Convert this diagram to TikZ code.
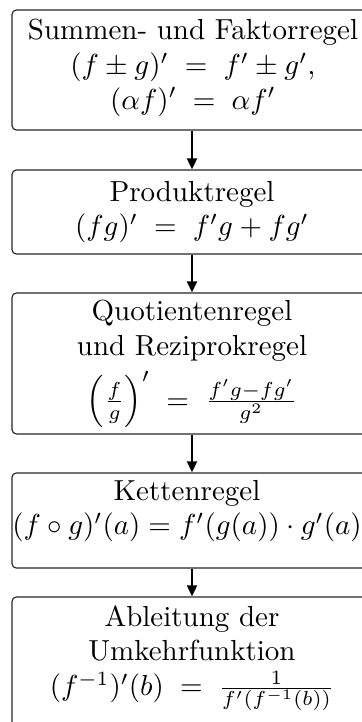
\documentclass[tikz,border=0pt]{standalone}
\usetikzlibrary{arrows.meta}
\begin{document}
\begin{tikzpicture}[x=0.3448pt,y=-0.3448pt,
  rbox/.style={draw=black!85,line width=0.4pt,rounded corners=1.5pt,minimum width=124.1pt,inner sep=0pt},
  txt/.style={inner sep=0pt,align=center},
  arr/.style={line width=0.8pt,-{Triangle[length=3.8pt,width=3.4pt]}}]
\useasboundingbox (0,0) rectangle (362,722);
\node[rbox,minimum height=41.4pt] (b1) at (192,70) {};
\node[rbox,minimum height=29pt] (b2) at (192,212) {};
\node[rbox,minimum height=48.6pt] (b3) at (192,363.5) {};
\node[rbox,minimum height=32.8pt] (b4) at (192,520.5) {};
\node[rbox,minimum height=48.3pt] (b5) at (192,667) {};
\node[txt] (t1) at (193,68) {Summen- und Faktorregel\\ $(f\pm g)'\;=\;f'\pm g'$,\\ $(\alpha f)'\;=\;\alpha f'$};
\node[txt] (t2) at (192,212) {Produktregel\\ $(fg)'\;=\;f'g+fg'$};
\node[txt] (t3) at (192,364) {Quotientenregel\\ und Reziprokregel\\[2.5pt] $\left(\frac{f}{g}\right)'\;=\;\frac{f'g-fg'}{g^2}$};
\node[txt] (t4) at (187,511) {Kettenregel\\ $(f\circ g)'(a)=f'(g(a))\cdot g'(a)$};
\node[txt] (t5) at (192,658) {Ableitung der\\ Umkehrfunktion\\ $(f^{-1})'(b)\;=\;\frac{1}{f'(f^{-1}(b))}$};
\draw[arr] (b1) -- (b2);
\draw[arr] (b2) -- (b3);
\draw[arr] (b3) -- (b4);
\draw[arr] (b4) -- (b5);
\end{tikzpicture}
\end{document}
